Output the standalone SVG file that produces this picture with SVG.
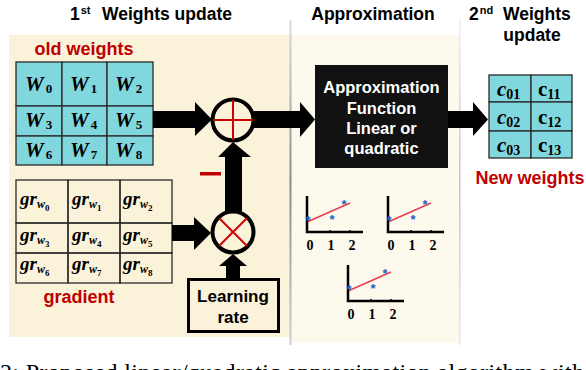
<svg xmlns="http://www.w3.org/2000/svg" width="586" height="370" viewBox="0 0 586 370">
<defs>
<style>
.ttl{font-family:"Liberation Sans",Arial,sans-serif;font-weight:bold;font-size:17.5px;fill:#000}
.sup{font-size:11px}
.red{font-family:"Liberation Sans",Arial,sans-serif;font-weight:bold;font-size:18px;fill:#C00000}
.wt{font-family:"Liberation Serif","Times New Roman",serif;font-weight:bold;font-style:italic;font-size:21px;fill:#000}
.ws{font-style:normal;font-size:13px}
.gr{font-family:"Liberation Serif","Times New Roman",serif;font-weight:bold;font-style:italic;font-size:19px;fill:#000}
.g1{font-size:12px}
.g2{font-style:normal;font-size:9px}
.ct{font-family:"Liberation Serif","Times New Roman",serif;font-weight:bold;font-style:italic;font-size:21px;fill:#000}
.cu{font-style:normal}
.cs{font-style:normal;font-size:14px}
.box{font-family:"Liberation Sans",Arial,sans-serif;font-weight:bold;font-size:16.5px;fill:#fff;text-anchor:middle}
.lr{font-family:"Liberation Sans",Arial,sans-serif;font-weight:bold;font-size:17px;fill:#000;text-anchor:middle}
.cell{fill:#80D8DE;stroke:#2a2a2a;stroke-width:1.3}
.gcell{fill:none;stroke:#2a2a2a;stroke-width:1.3}
.arrow{fill:#000}
.ring{fill:none;stroke:#000;stroke-width:4}
.rl{stroke:#D00000;stroke-width:2}
.ax{fill:none;stroke:#000;stroke-width:2.5}
.fit{stroke:#E8404E;stroke-width:1.6}
.star{font-family:"Liberation Sans",Arial,sans-serif;font-weight:bold;font-size:13px;fill:#1F5FC8;text-anchor:middle}
.num{font-family:"Liberation Serif","Times New Roman",serif;font-weight:bold;font-size:14px;fill:#000;text-anchor:middle}
.cap{font-family:"Liberation Serif","Times New Roman",serif;font-size:24px;fill:#000}
</style>
<linearGradient id="edge" x1="0" y1="0" x2="0" y2="1">
<stop offset="0" stop-color="#dcdcdc"/>
<stop offset="0.5" stop-color="#8a8a8a"/>
<stop offset="1" stop-color="#d0d0d0"/>
</linearGradient>
<g id="plot">
<path class="fit" d="M0,26 L43,7" fill="none"/>
<path class="ax" d="M0,0 V36 H56"/>
<path d="M23,36 v-2 M43,36 v-2" stroke="#000" stroke-width="1.5"/>
<text class="star" x="1" y="29">*</text>
<text class="star" x="25" y="28">*</text>
<text class="star" x="37" y="13">*</text>
<text class="num" x="3" y="54">0</text>
<text class="num" x="24" y="54">1</text>
<text class="num" x="45" y="54">2</text>
</g>
</defs>

<!-- panels -->
<g id="panels">
<rect x="9" y="35" width="281" height="302" fill="#FBF2DA"/>
<rect x="291" y="35" width="168" height="308" fill="#FDF9EC"/>
<rect x="289.5" y="20" width="2" height="325" fill="url(#edge)"/>
<rect x="459" y="20" width="1.5" height="325" fill="url(#edge)" opacity="0.5"/>
</g>

<!-- titles -->
<g id="titles">
<text class="ttl" x="70" y="20">1<tspan class="sup" dx="1" dy="-6">st</tspan><tspan x="102" dy="6">Weights update</tspan></text>
<text class="ttl" x="373" y="20" text-anchor="middle">Approximation</text>
<text class="ttl" x="469" y="20">2<tspan class="sup" dx="1" dy="-6">nd</tspan><tspan x="503" dy="6">Weights</tspan></text>
<text class="ttl" x="532" y="41" text-anchor="middle">update</text>
</g>

<!-- old weights -->
<g id="old-weights">
<text class="red" x="84" y="55" text-anchor="middle">old weights</text>
<rect class="cell" x="16" y="62" width="46" height="44"/>
<rect class="cell" x="62" y="62" width="45" height="44"/>
<rect class="cell" x="107" y="62" width="46" height="44"/>
<rect class="cell" x="16" y="106" width="46" height="30"/>
<rect class="cell" x="62" y="106" width="45" height="30"/>
<rect class="cell" x="107" y="106" width="46" height="30"/>
<rect class="cell" x="16" y="136" width="46" height="29"/>
<rect class="cell" x="62" y="136" width="45" height="29"/>
<rect class="cell" x="107" y="136" width="46" height="29"/>
<text class="wt" x="25" y="91">W<tspan class="ws" dx="2" dy="2">0</tspan></text>
<text class="wt" x="70" y="91">W<tspan class="ws" dx="2" dy="2">1</tspan></text>
<text class="wt" x="115" y="91">W<tspan class="ws" dx="2" dy="2">2</tspan></text>
<text class="wt" x="25" y="127">W<tspan class="ws" dx="2" dy="2">3</tspan></text>
<text class="wt" x="70" y="127">W<tspan class="ws" dx="2" dy="2">4</tspan></text>
<text class="wt" x="115" y="127">W<tspan class="ws" dx="2" dy="2">5</tspan></text>
<text class="wt" x="25" y="157">W<tspan class="ws" dx="2" dy="2">6</tspan></text>
<text class="wt" x="70" y="157">W<tspan class="ws" dx="2" dy="2">7</tspan></text>
<text class="wt" x="115" y="157">W<tspan class="ws" dx="2" dy="2">8</tspan></text>
</g>

<!-- gradient -->
<g id="gradient">
<rect class="gcell" x="16" y="180" width="52" height="43"/>
<rect class="gcell" x="68" y="180" width="52" height="43"/>
<rect class="gcell" x="120" y="180" width="52" height="43"/>
<rect class="gcell" x="16" y="223" width="52" height="30"/>
<rect class="gcell" x="68" y="223" width="52" height="30"/>
<rect class="gcell" x="120" y="223" width="52" height="30"/>
<rect class="gcell" x="16" y="253" width="52" height="30"/>
<rect class="gcell" x="68" y="253" width="52" height="30"/>
<rect class="gcell" x="120" y="253" width="52" height="30"/>
<text class="gr" x="20" y="205">gr<tspan class="g1" dy="3">w</tspan><tspan class="g2" dy="3">0</tspan></text>
<text class="gr" x="72" y="205">gr<tspan class="g1" dy="3">w</tspan><tspan class="g2" dy="3">1</tspan></text>
<text class="gr" x="123" y="205">gr<tspan class="g1" dy="3">w</tspan><tspan class="g2" dy="3">2</tspan></text>
<text class="gr" x="20" y="241">gr<tspan class="g1" dy="3">w</tspan><tspan class="g2" dy="3">3</tspan></text>
<text class="gr" x="72" y="241">gr<tspan class="g1" dy="3">w</tspan><tspan class="g2" dy="3">4</tspan></text>
<text class="gr" x="123" y="241">gr<tspan class="g1" dy="3">w</tspan><tspan class="g2" dy="3">5</tspan></text>
<text class="gr" x="20" y="270">gr<tspan class="g1" dy="3">w</tspan><tspan class="g2" dy="3">6</tspan></text>
<text class="gr" x="72" y="270">gr<tspan class="g1" dy="3">w</tspan><tspan class="g2" dy="3">7</tspan></text>
<text class="gr" x="123" y="270">gr<tspan class="g1" dy="3">w</tspan><tspan class="g2" dy="3">8</tspan></text>
<text class="red" x="79" y="303" text-anchor="middle">gradient</text>
</g>

<!-- adder -->
<g id="adder">
<circle class="ring" cx="233" cy="120" r="20.5"/>
<line class="rl" x1="213" y1="120" x2="253" y2="120"/>
<line class="rl" x1="233" y1="100" x2="233" y2="140"/>
</g>

<!-- multiplier -->
<g id="multiplier">
<circle class="ring" cx="233" cy="232" r="20.5"/>
<line class="rl" x1="219" y1="218" x2="247" y2="246"/>
<line class="rl" x1="247" y1="218" x2="219" y2="246"/>
</g>

<!-- learning rate -->
<g id="learning-rate">
<rect x="188.5" y="279.5" width="90" height="52" fill="#FBF2DA" stroke="#000" stroke-width="3"/>
<text class="lr" x="233" y="302">Learning</text>
<text class="lr" x="233" y="323">rate</text>
</g>

<!-- approximation function -->
<g id="approx-box">
<rect x="315" y="65" width="133" height="103" fill="#111"/>
<text class="box" x="381.5" y="93">Approximation</text>
<text class="box" x="381.5" y="114">Function</text>
<text class="box" x="381.5" y="134">Linear or</text>
<text class="box" x="381.5" y="154">quadratic</text>
</g>

<!-- new weights -->
<g id="new-weights">
<rect class="cell" x="489" y="75" width="42" height="27"/>
<rect class="cell" x="531" y="75" width="41" height="27"/>
<rect class="cell" x="489" y="102" width="42" height="29"/>
<rect class="cell" x="531" y="102" width="41" height="29"/>
<rect class="cell" x="489" y="131" width="42" height="27"/>
<rect class="cell" x="531" y="131" width="41" height="27"/>
<text class="ct" x="497" y="96">c<tspan class="cs" dy="3">01</tspan></text>
<text class="ct cu" x="538" y="96">c<tspan class="cs" dy="3">11</tspan></text>
<text class="ct" x="497" y="124">c<tspan class="cs" dy="3">02</tspan></text>
<text class="ct cu" x="538" y="124">c<tspan class="cs" dy="3">12</tspan></text>
<text class="ct" x="497" y="152">c<tspan class="cs" dy="3">03</tspan></text>
<text class="ct cu" x="538" y="152">c<tspan class="cs" dy="3">13</tspan></text>
<text class="red" x="530" y="184" text-anchor="middle">New weights</text>
</g>

<!-- plots -->
<g id="plots">
<use href="#plot" x="307" y="196"/>
<use href="#plot" x="388" y="196"/>
<use href="#plot" x="348" y="265"/>
</g>

<!-- connectors -->
<g id="connectors">
<polygon class="arrow" points="153,111 195,111 195,102 212,119.5 195,136 195,128 153,128"/>
<polygon class="arrow" points="254,111 300,111 300,102 315,119.5 300,137 300,128 254,128"/>
<polygon class="arrow" points="225,211 225,157 218,157 233,142 251,157 242,157 242,211"/>
<polygon class="arrow" points="172,225 194,225 194,217 211,233 194,250 194,241 172,241"/>
<polygon class="arrow" points="226,279 226,266 219,266 233,254 247,266 240,266 240,279"/>
<polygon class="arrow" points="448,111 473,111 473,102 488,119.5 473,136 473,128 448,128"/>
<rect x="200" y="172" width="21" height="3.5" fill="#C00000"/>
</g>

<!-- caption fragment -->
<text class="cap" x="0" y="380" textLength="584" lengthAdjust="spacing">2: Proposed linear/quadratic approximation algorithm with</text>
</svg>
